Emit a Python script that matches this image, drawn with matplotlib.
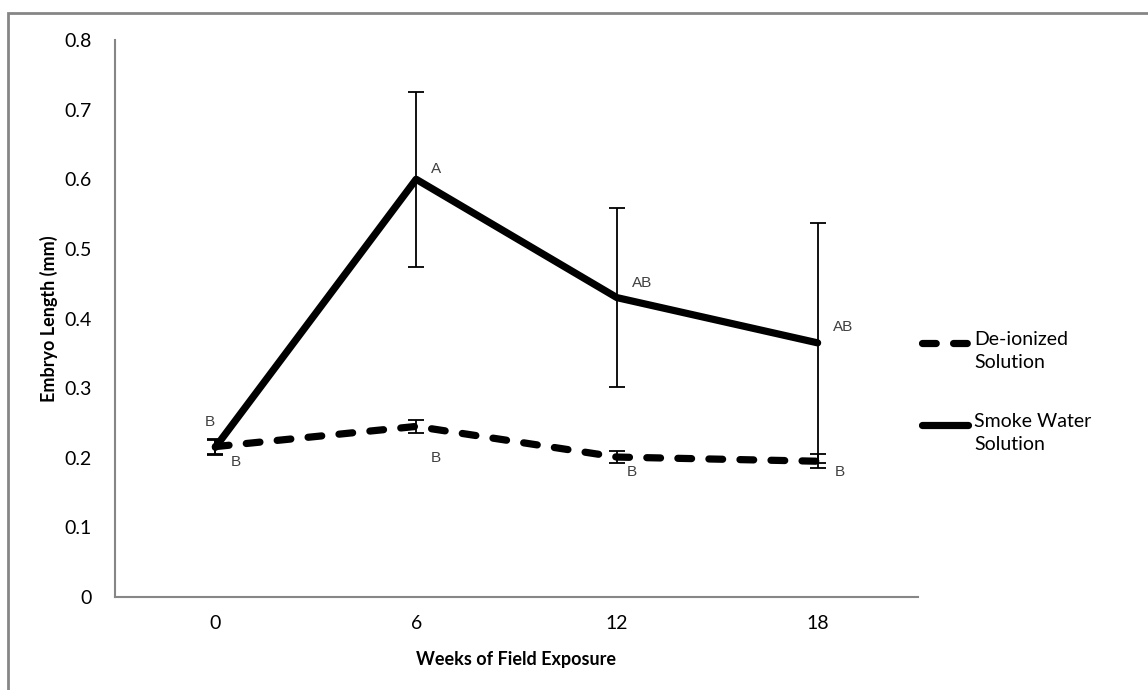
import matplotlib
matplotlib.use('Agg')
import matplotlib.pyplot as plt
from matplotlib.patches import Rectangle
from matplotlib.lines import Line2D

weeks = ['0', '6', '12', '18']

deionized = [0.216, 0.245, 0.201, 0.195]
deionized_err = [0.011, 0.009, 0.009, 0.010]
deionized_letters = ['B', 'B', 'B', 'B']

smoke = [0.215, 0.600, 0.430, 0.365]
smoke_err = [0.011, 0.126, 0.128, 0.172]
smoke_letters = ['B', 'A', 'AB', 'AB']

yticks = [0, 0.1, 0.2, 0.3, 0.4, 0.5, 0.6, 0.7, 0.8]

FONT = ['Lato', 'DejaVu Sans']
LETTER_FONT = ['Liberation Sans', 'DejaVu Sans']
GREY = '#868686'
DASH = (0, (1.9, 2.4))

fig = plt.figure(figsize=(11.48, 6.9), dpi=100)
fig.patch.set_facecolor('white')

# chart-area border, running off the right and bottom edges
fig.add_artist(Rectangle((8 / 1148, -0.05), 1.2, 1.05 - 13 / 690,
                         transform=fig.transFigure, fill=False,
                         edgecolor=GREY, linewidth=2))

ax = fig.add_axes([115 / 1148, 1 - 597 / 690, 803 / 1148, 557 / 690])
x = list(range(len(weeks)))

ax.errorbar(x, smoke, yerr=smoke_err, color='black', linewidth=5.2,
            elinewidth=1.3, capsize=6, capthick=1.3,
            solid_capstyle='round', zorder=3)
ax.errorbar(x, deionized, yerr=deionized_err, color='black', linewidth=5.2,
            linestyle=DASH, dash_capstyle='round',
            elinewidth=1.3, capsize=6, capthick=1.3, zorder=4)

# significance letters (pixel offsets from each point)
smoke_off = [(-11, 25), (15, 10), (15, 15), (15, 16)]
for xi, yi, lab, (dx, dy) in zip(x, smoke, smoke_letters, smoke_off):
    ax.annotate(lab, (xi, yi), xytext=(dx, dy), textcoords='offset pixels',
                ha='left', va='center', fontsize=11, color='#404040',
                family=LETTER_FONT)
de_off = [(15, -15), (15, -32), (10, -15), (17, -11)]
for xi, yi, lab, (dx, dy) in zip(x, deionized, deionized_letters, de_off):
    ax.annotate(lab, (xi, yi), xytext=(dx, dy), textcoords='offset pixels',
                ha='left', va='center', fontsize=11, color='#404040',
                family=LETTER_FONT)

ax.set_xlim(-0.5, 3.5)
ax.set_ylim(0, 0.8)
ax.set_xticks(x)
ax.set_xticklabels(weeks, fontsize=14, family=FONT)
ax.set_yticks(yticks)
ax.set_yticklabels(['0'] + ['%.1f' % v for v in yticks[1:]], fontsize=14,
                   family=FONT)
ax.tick_params(axis='x', length=0, pad=13, colors='black')
ax.tick_params(axis='y', length=0, pad=17, colors='black')
for s in ['top', 'right']:
    ax.spines[s].set_visible(False)
for s in ['left', 'bottom']:
    ax.spines[s].set_color(GREY)
    ax.spines[s].set_linewidth(1.5)

ax.set_xlabel('Weeks of Field Exposure', fontsize=13, fontweight='bold',
              family=FONT, labelpad=14)
ax.set_ylabel('Embryo Length (mm)', fontsize=13, fontweight='bold',
              family=FONT, labelpad=4)

# legend drawn by hand so each handle sits on the first text line
legend_rows = [('De-ionized\nSolution', DASH, 343),
               ('Smoke Water\nSolution', '-', 425)]
for label, style, ypix in legend_rows:
    yf = 1 - ypix / 690
    fig.add_artist(Line2D([922 / 1148, 968 / 1148], [yf, yf],
                          transform=fig.transFigure, color='black',
                          linewidth=5.2, linestyle=style,
                          dash_capstyle='round', solid_capstyle='round'))
    fig.text(974 / 1148, yf + 12 / 690, label, ha='left', va='top',
             fontsize=14, family=FONT, linespacing=1.45)

plt.savefig('out.png', dpi=100, facecolor='white')
plt.close()
